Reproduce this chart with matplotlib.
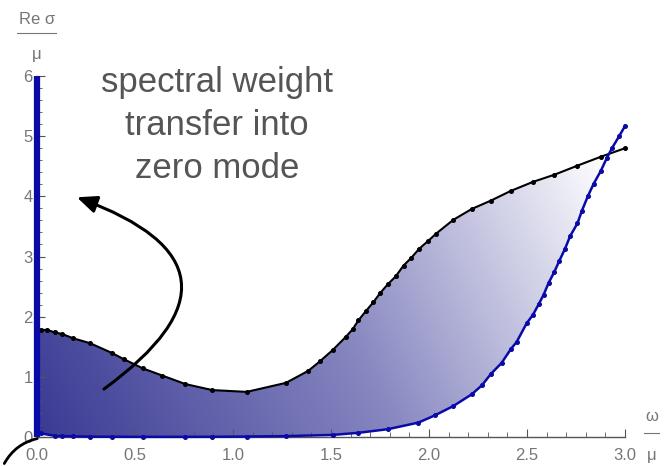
import numpy as np
import matplotlib
matplotlib.use('Agg')
import matplotlib.pyplot as plt
from matplotlib.colors import LinearSegmentedColormap
from matplotlib.patches import Polygon, FancyArrowPatch
from matplotlib.lines import Line2D

plt.rcParams['font.family'] = ['Liberation Sans', 'DejaVu Sans']

# Re sigma / mu, upper curve (black)
w_black = [0.0, 0.02, 0.05, 0.09, 0.13, 0.185, 0.27, 0.38, 0.445, 0.54, 0.64, 0.757,
           0.894, 1.07, 1.27, 1.384, 1.444, 1.51, 1.577, 1.61, 1.64, 1.677, 1.716,
           1.75, 1.79, 1.83, 1.87, 1.91, 1.95, 1.996, 2.036, 2.124, 2.218, 2.316,
           2.417, 2.53, 2.64, 2.757, 2.878, 3.0]
s_black = [1.78, 1.78, 1.78, 1.74, 1.71, 1.64, 1.56, 1.40, 1.29, 1.14, 1.02, 0.88,
           0.78, 0.75, 0.90, 1.10, 1.26, 1.45, 1.67, 1.79, 1.94, 2.09, 2.24,
           2.39, 2.54, 2.67, 2.85, 2.98, 3.13, 3.26, 3.38, 3.61, 3.79, 3.93,
           4.09, 4.24, 4.36, 4.51, 4.66, 4.80]

# Re sigma / mu, lower curve (blue)
w_blue = [0.0, 0.02, 0.09, 0.13, 0.185, 0.27, 0.38, 0.54, 0.757, 0.894, 1.07, 1.27,
          1.51, 1.64, 1.79, 1.946, 2.03, 2.124, 2.218, 2.27, 2.316, 2.37, 2.417,
          2.447, 2.498, 2.53, 2.56, 2.584, 2.61, 2.64, 2.665, 2.694, 2.72, 2.757,
          2.78, 2.81, 2.84, 2.876, 2.906, 2.935, 2.97, 3.0]
s_blue = [0.10, 0.06, 0.02, 0.015, 0.012, 0.006, 0.004, 0.003, 0.003, 0.004, 0.008, 0.015,
          0.035, 0.07, 0.13, 0.24, 0.36, 0.515, 0.71, 0.86, 1.05, 1.23, 1.46,
          1.58, 1.89, 2.03, 2.21, 2.36, 2.56, 2.75, 2.93, 3.13, 3.34, 3.55,
          3.76, 4.00, 4.21, 4.42, 4.63, 4.81, 5.00, 5.17]

# zero mode (delta peak at omega = 0)
zero_mode_height = 6.0

x_ticks = [0.0, 0.5, 1.0, 1.5, 2.0, 2.5, 3.0]
y_ticks = [0, 1, 2, 3, 4, 5, 6]

blue = '#0a0aa8'
gray = '#767676'

fig = plt.figure(figsize=(6.67, 4.66), dpi=100)
ax = fig.add_axes([0.0555, 0.0622, 0.8816, 0.7747])
ax.set_xlim(0, 3.0)
ax.set_ylim(0, 6.0)

# gradient fill between the two curves
poly_xy = list(zip(w_black, s_black)) + list(zip(w_blue, s_blue))[::-1]
patch = Polygon(poly_xy, closed=True, facecolor='none', edgecolor='none')
ax.add_patch(patch)
gx, gy = np.meshgrid(np.linspace(0, 3, 300), np.linspace(0, 6, 300))
# pixel-space direction: dark lower-left -> white upper-right
px = gx * 196.0
py = gy * 60.2
t = (px * 568 + py * 283) / (568 ** 2 + 283 ** 2)
cmap = LinearSegmentedColormap.from_list('fade', ['#3a3a94', '#8585c0', '#ffffff'])
img = ax.imshow(t, extent=[0, 3, 0, 6], origin='lower', cmap=cmap, vmin=0, vmax=1,
                aspect='auto', interpolation='bilinear', zorder=1)
img.set_clip_path(patch)

ax.plot(w_black, s_black, color='black', lw=1.5, zorder=3, clip_on=False)
ax.plot(w_black, s_black, 'o', color='black', ms=2.6, zorder=4, clip_on=False)
ax.plot(w_blue, s_blue, color=blue, lw=1.8, zorder=3, clip_on=False)
ax.plot(w_blue, s_blue, 'o', color=blue, ms=2.6, zorder=4, clip_on=False)
ax.plot([0, 0], [0, zero_mode_height], color=blue, lw=4.5, zorder=5,
        solid_capstyle='butt', clip_on=False)

# axes through the origin, mathematica-like
for side in ['top', 'right']:
    ax.spines[side].set_visible(False)
for side in ['bottom', 'left']:
    ax.spines[side].set_color('#555555')
    ax.spines[side].set_linewidth(1.0)
ax.set_xticks(x_ticks)
ax.set_xticklabels(['%.1f' % v for v in x_ticks])
ax.set_yticks(y_ticks)
ax.set_xticks(np.arange(0, 3.01, 0.1), minor=True)
ax.set_yticks(np.arange(0, 6.01, 0.2), minor=True)
ax.tick_params(which='both', direction='in', colors='#555555', labelcolor=gray,
               labelsize=12)
ax.tick_params(which='major', length=6, width=0.8)
ax.tick_params(which='minor', length=3.5, width=0.6)
ax.tick_params(axis='x', pad=8)
ax.tick_params(axis='y', pad=3)

# fraction-style axis labels
ax.text(1.045, 0.058, 'ω', transform=ax.transAxes, ha='center', va='center',
        fontsize=12, color=gray)
ax.add_line(Line2D([1.033, 1.057], [0.012, 0.012], transform=ax.transAxes,
                   color=gray, lw=0.8, clip_on=False))
ax.text(1.045, -0.052, 'μ', transform=ax.transAxes, ha='center', va='center',
        fontsize=12, color=gray)

fig.text(37 / 667, 1 - 20 / 466, 'Re σ', ha='center', va='center', fontsize=12,
         color=gray)
fig.add_artist(Line2D([17 / 667, 56 / 667], [1 - 33 / 466, 1 - 33 / 466],
                      transform=fig.transFigure, color=gray, lw=0.8))
fig.text(37 / 667, 1 - 54 / 466, 'μ', ha='center', va='center', fontsize=12,
         color=gray)

ax.text(0.918, 5.18, 'spectral weight\ntransfer into\nzero mode', ha='center',
        va='center', multialignment='center', fontsize=25, color='#555555',
        linespacing=1.38)

arrow = FancyArrowPatch((0.33, 0.77), (0.19, 4.0), connectionstyle='arc3,rad=0.95',
                        arrowstyle='-|>,head_length=0.6,head_width=0.26',
                        mutation_scale=20, lw=2.2, color='black', zorder=6)
ax.add_patch(arrow)

# little arc leaving the origin
fig.add_artist(FancyArrowPatch((40 / 667, 28 / 466), (3 / 667, 0.0),
                               transform=fig.transFigure, arrowstyle='-',
                               connectionstyle='arc3,rad=0.25', lw=2.0,
                               color='black'))

fig.savefig('out.png', dpi=100)
